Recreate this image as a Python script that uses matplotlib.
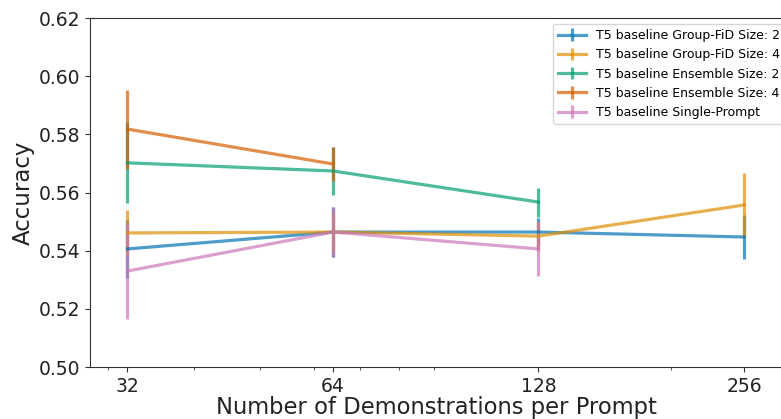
import matplotlib
matplotlib.use("Agg")
import matplotlib.pyplot as plt
import numpy as np

demos = [32, 64, 128, 256]
tick_labels = ["32", "64", "128", "256"]

labels = [
    "T5 baseline Group-FiD Size: 2",
    "T5 baseline Group-FiD Size: 4",
    "T5 baseline Ensemble Size: 2",
    "T5 baseline Ensemble Size: 4",
    "T5 baseline Single-Prompt",
]
colors = ["#0173b2", "#de8f05", "#029e73", "#d55e00", "#cc78bc"]

gfid2_x = [32, 64, 128, 256]
gfid2_y = [0.5406, 0.5464, 0.5464, 0.5447]
gfid2_e = [0.010, 0.0085, 0.005, 0.0076]

gfid4_x = [32, 64, 128, 256]
gfid4_y = [0.5461, 0.5464, 0.5450, 0.5557]
gfid4_e = [0.008, 0.007, 0.005, 0.011]

ens2_x = [32, 64, 128]
ens2_y = [0.5702, 0.5674, 0.5567]
ens2_e = [0.0139, 0.0081, 0.005]

ens4_x = [32, 64]
ens4_y = [0.5818, 0.5698]
ens4_e = [0.0136, 0.0057]

single_x = [32, 64, 128]
single_y = [0.5330, 0.5464, 0.5406]
single_e = [0.0165, 0.0085, 0.0093]

series = [
    (gfid2_x, gfid2_y, gfid2_e),
    (gfid4_x, gfid4_y, gfid4_e),
    (ens2_x, ens2_y, ens2_e),
    (ens4_x, ens4_y, ens4_e),
    (single_x, single_y, single_e),
]

fig = plt.figure(figsize=(7.81, 4.19), dpi=100)
ax = fig.add_axes([90 / 781, 52 / 419, 692 / 781, 349 / 419])

for (x, y, e), lab, c in zip(series, labels, colors):
    ax.errorbar(x, y, yerr=e, color=c, alpha=0.7, linewidth=2.3,
                elinewidth=2.3, label=lab)

ax.set_xscale("log")
ax.set_xlim(28.2, 291)
ax.set_xticks(demos)
ax.set_xticklabels(tick_labels)
ax.set_ylim(0.50, 0.62)
yt = np.arange(0.50, 0.621, 0.02)
ax.set_yticks(yt)
ax.set_yticklabels([f"{v:.2f}" for v in yt])

ax.tick_params(axis="both", which="major", labelsize=13.5, colors="#333333", labelcolor="#222222")
ax.tick_params(axis="x", which="minor", colors="#333333")
for s in ax.spines.values():
    s.set_color("#333333")

ax.set_xlabel("Number of Demonstrations per Prompt", fontsize=16.3, color="#222222", labelpad=0)
ax.set_ylabel("Accuracy", fontsize=16.5, color="#222222", labelpad=3)

leg = fig.legend(loc="upper left", bbox_to_anchor=(553 / 781, 1 - 24 / 419),
                 fontsize=9, frameon=True, borderaxespad=0, handlelength=2.2)
leg.get_frame().set_edgecolor("#cccccc")

fig.savefig("out.png", dpi=100)
